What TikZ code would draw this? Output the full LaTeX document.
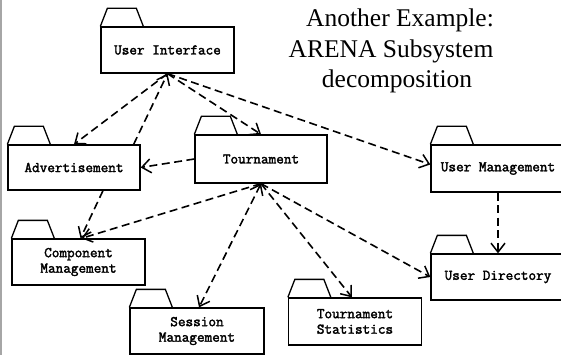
\documentclass[tikz,border=0pt]{standalone}
\usepackage{fontspec}
\setmainfont{Liberation Serif}
\setmonofont{Latin Modern Mono}[AutoFakeBold=2.2]
\usetikzlibrary{arrows.meta}
\begin{document}
\begin{tikzpicture}[x=1pt,y=-1pt,
  vtip/.tip={Straight Barb[length=9pt,width=14pt,line width=1.5pt]},
  pkg/.style={draw, line width=1.3pt, minimum width=133pt, minimum height=46pt,
    inner sep=0pt, align=center,
    font=\ttfamily\bfseries\fontsize{14.8}{15.5}\selectfont},
  tab/.style={draw, line width=1.3pt, line join=miter},
  dep/.style={line width=1.6pt, dash pattern=on 8pt off 4.5pt, -vtip},
  ttl/.style={anchor=base, inner sep=0pt, font=\fontsize{25.5}{30.5}\selectfont}]
\useasboundingbox (0,0) rectangle (561,355);
\fill[white] (0,0) rectangle (561,355);
\draw[black!35, line width=1.6pt] (1,0) -- (1,355);

\node[ttl] (t1) at (400,27) {Another Example:};
\node[ttl] (t2) at (391,58) {ARENA Subsystem};
\node[ttl] (t3) at (397,88) {decomposition};

\node[pkg] (ui) at (167.5,50) {User Interface};
\node[pkg, minimum width=132pt, minimum height=45pt] (adv) at (74,167.5) {Advertisement};
\node[pkg, minimum width=132pt, minimum height=48pt] (tour) at (261,159) {Tournament};
\node[pkg, minimum width=134pt, minimum height=47pt] (um) at (498,168.5) {User Management};
\node[pkg, minimum width=134pt] (ud) at (498,277) {User Directory};
\node[pkg] (cm) at (78.5,262) {Component\\Management};
\node[pkg, minimum width=134pt] (sess) at (197,331) {Session\\Management};
\node[pkg, minimum height=47pt] (stats) at (355,321.5) {Tournament\\Statistics};

\foreach \n in {ui,adv,tour,um,ud,cm,sess,stats}
  \draw[tab] (\n.north west) -- ++(7,-18) -- ++(29,0) -- ++(7,18);

\draw[dep] (ui.south) -- (adv.north);
\draw[dep] (ui.south) -- (tour.north);
\draw[dep] (ui.south) -- ([yshift=4pt]um.west);
\draw[dep] ([xshift=-7pt]adv.north east) -- (ui.south);
\draw[dep] (tour.west) -- (adv.east);
\draw[dep] ([xshift=29pt]adv.south) -- ([xshift=2pt]cm.north);
\draw[dep] (tour.south) -- ([xshift=3pt]cm.north);
\draw[dep, vtip-vtip] (tour.south) -- ([xshift=2pt]sess.north);
\draw[dep] (tour.south) -- ([xshift=-3pt]stats.north);
\draw[dep] (tour.south) -- (ud.west);
\draw[dep] (um.south) -- (ud.north);
\end{tikzpicture}
\end{document}
